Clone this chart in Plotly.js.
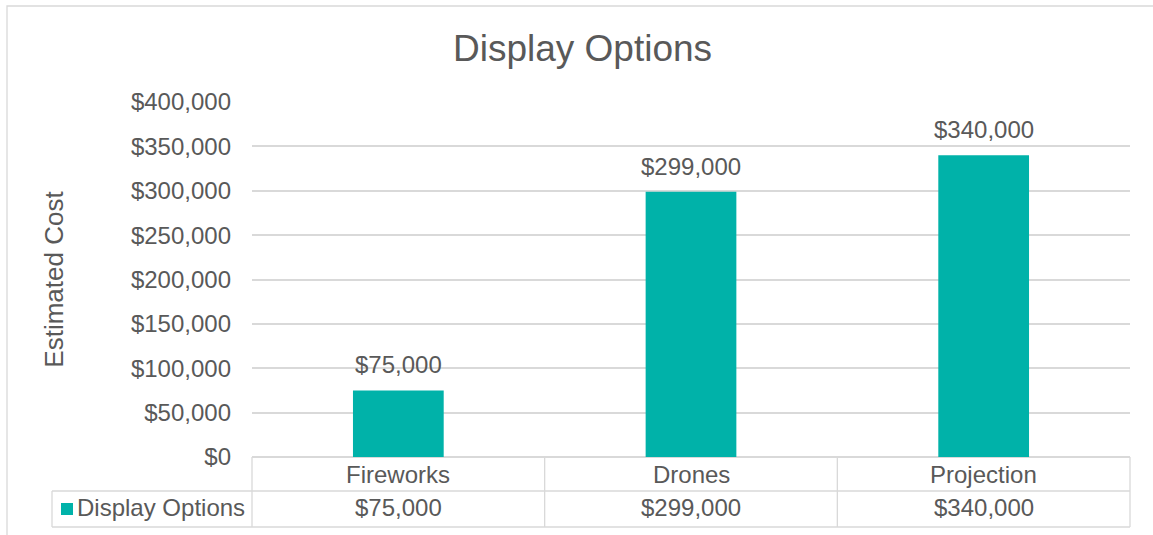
<!DOCTYPE html>
<html>
<head>
<meta charset="utf-8">
<script src="https://cdn.plot.ly/plotly-3.0.1.min.js"></script>
<style>html,body{margin:0;padding:0;background:#fff;}#chart{width:1153px;height:535px;}</style>
</head>
<body>
<div id="chart"></div>
<script>
const categories = ["Fireworks", "Drones", "Projection"];
const seriesName = "Display Options";
const values = [75000, 299000, 340000];
const yTickValues = [0, 50000, 100000, 150000, 200000, 250000, 300000, 350000, 400000];

const TEXT = "#595959";
const GRID = "#d9d9d9";
const BAR = "#00B2A9";
const FONT = "Liberation Sans, Arial, sans-serif";

function fmt(v) { return "$" + v.toLocaleString("en-US"); }

const W = 1153, H = 535;
const M = {l: 252, r: 23, t: 102, b: 78};
const plotW = W - M.l - M.r, plotH = H - M.t - M.b;
const xRange = [-0.5, categories.length - 0.5];
const px2x = p => (p - M.l) / plotW;           // pixel -> paper x
const px2y = p => (H - M.b - p) / plotH;        // pixel -> paper y
const cat2paper = c => (c - xRange[0]) / (xRange[1] - xRange[0]);

const row1Bottom = px2y(491);
const row2Bottom = px2y(527);
const legendLeft = px2x(52);

const shapes = [];
const lineStyle = {color: GRID, width: 1.3};
// outer chart frame
shapes.push({type: "rect", xref: "paper", yref: "paper", x0: px2x(7), x1: 1.2, y0: -0.6, y1: px2y(6), line: lineStyle, layer: "below"});
// data table horizontal lines
shapes.push({type: "line", xref: "paper", yref: "paper", x0: legendLeft, x1: 1, y0: row1Bottom, y1: row1Bottom, line: lineStyle});
shapes.push({type: "line", xref: "paper", yref: "paper", x0: legendLeft, x1: 1, y0: row2Bottom, y1: row2Bottom, line: lineStyle});
// data table vertical lines at category boundaries
for (let i = 0; i <= categories.length; i++) {
  const xp = cat2paper(i - 0.5);
  shapes.push({type: "line", xref: "paper", yref: "paper", x0: xp, x1: xp, y0: 0, y1: row2Bottom, line: lineStyle});
}
shapes.push({type: "line", xref: "paper", yref: "paper", x0: legendLeft, x1: legendLeft, y0: row1Bottom, y1: row2Bottom, line: lineStyle});
// legend key
shapes.push({type: "rect", xref: "paper", yref: "paper", x0: px2x(61), x1: px2x(73), y0: px2y(515), y1: px2y(503), line: {width: 0}, fillcolor: BAR});

const annotations = [];
const f24 = {family: FONT, size: 24, color: TEXT};
categories.forEach((c, i) => {
  // data label above bar
  annotations.push({x: c, y: values[i], xref: "x", yref: "y", text: fmt(values[i]), showarrow: false, yanchor: "bottom", yshift: 10, font: f24});
  // table: category row
  annotations.push({x: c, y: (0 + row1Bottom) / 2, xref: "x", yref: "paper", text: c, showarrow: false, yanchor: "middle", font: f24});
  // table: value row
  annotations.push({x: c, y: (row1Bottom + row2Bottom) / 2 + 0.003, xref: "x", yref: "paper", text: fmt(values[i]), showarrow: false, yanchor: "middle", font: f24});
});
annotations.push({x: px2x(75), y: (row1Bottom + row2Bottom) / 2 + 0.003, xref: "paper", yref: "paper", text: seriesName, showarrow: false, xanchor: "left", yanchor: "middle", font: f24});

const data = [{
  type: "bar",
  x: categories,
  y: values,
  name: seriesName,
  width: 0.31,
  marker: {color: BAR},
  hoverinfo: "x+y"
}];

const layout = {
  width: W, height: H,
  margin: M,
  paper_bgcolor: "#fff", plot_bgcolor: "#fff",
  showlegend: false,
  font: {family: FONT, color: TEXT},
  title: {text: "Display Options", font: {family: FONT, size: 37, color: TEXT}, x: 582.5 / W, xanchor: "center", y: 1 - 48 / H, yanchor: "middle", xref: "container", yref: "container"},
  xaxis: {type: "category", range: xRange, showticklabels: false, showgrid: false, zeroline: false, showline: false, ticks: "", fixedrange: true},
  yaxis: {
    range: [0, 400000], tickvals: yTickValues, tickformat: "$,.0f",
    tickfont: {family: FONT, size: 24, color: TEXT},
    showgrid: true, gridcolor: GRID, gridwidth: 1.5,
    zeroline: true, zerolinecolor: GRID, zerolinewidth: 1.5,
    showline: false, ticks: "", ticklabelstandoff: 20,
    title: {text: "Estimated Cost", font: {family: FONT, size: 26, color: TEXT}, standoff: 59},
    automargin: false, fixedrange: true
  },
  shapes: shapes,
  annotations: annotations
};

Plotly.newPlot("chart", data, layout, {displayModeBar: false, staticPlot: false});
</script>
</body>
</html>
